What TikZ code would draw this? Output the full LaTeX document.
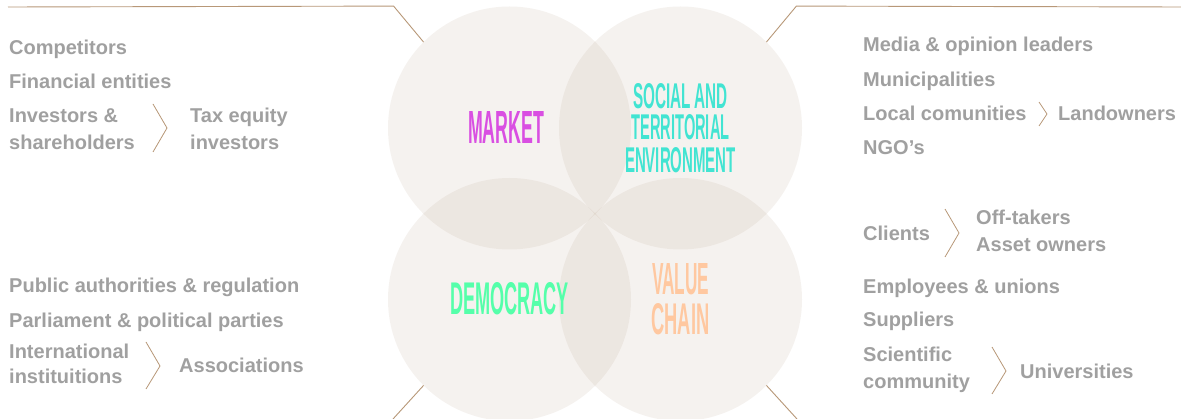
\documentclass[tikz,border=0pt]{standalone}
\usepackage{fontspec}
\setmainfont{Liberation Sans}
\usepackage{graphicx}
\definecolor{textgray}{RGB}{160,160,160}
\definecolor{linebrown}{RGB}{184,152,120}
\definecolor{circfill}{RGB}{165,135,105}
\definecolor{mktcol}{RGB}{217,79,226}
\definecolor{soccol}{RGB}{66,228,210}
\definecolor{demcol}{RGB}{85,255,170}
\definecolor{valcol}{RGB}{255,200,160}
\newcommand\disp[3]{\resizebox{#1pt}{#2pt}{\bfseries #3}}
\tikzset{
  circ/.style={circle, minimum size=243pt, inner sep=0pt, outer sep=0pt, fill=circfill, fill opacity=0.1},
  item/.style={anchor=base west, inner sep=0pt, text=textgray, font=\fontsize{20}{23}\selectfont\bfseries},
  lead/.style={draw=linebrown, line width=0.9pt},
  chev/.style={draw=linebrown, line width=0.8pt},
  lab/.style={anchor=south, inner sep=0pt},
}
\begin{document}
\begin{tikzpicture}[x=1pt,y=-1pt]
\useasboundingbox (0,0) rectangle (1181,419);
\fill[white] (0,0) rectangle (1181,419);

% circles
\node[circ] (mkt) at (509.5,128) {};
\node[circ] (soc) at (680.5,128) {};
\node[circ] (dem) at (509.5,299.5) {};
\node[circ] (val) at (680.5,299.5) {};

% leader lines
\coordinate (tlend) at (8,7);
\coordinate (trend) at (1181,7);
\coordinate (blend) at (393,419);
\coordinate (brend) at (797,419);
\draw[lead] (mkt.135) -- ++(-30,-36) -- (tlend);
\draw[lead] (soc.45) -- ++(30,-36) -- (trend);
\draw[lead] (dem.225) -- (blend);
\draw[lead] (val.315) -- (brend);

% circle labels
\node[lab] (lmkt) at (506,144) {\color{mktcol}\disp{76}{32}{MARKET}};
\node[lab] (lsoc1) at (680.5,109) {\color{soccol}\disp{95}{25}{SOCIAL AND}};
\node[lab] (lsoc2) at (680.5,140) {\color{soccol}\disp{98}{25}{TERRITORIAL}};
\node[lab] (lsoc3) at (680.5,173) {\color{soccol}\disp{111}{25}{ENVIRONMENT}};
\node[lab] (ldem) at (509.5,315) {\color{demcol}\disp{119}{32}{DEMOCRACY}};
\node[lab] (lval1) at (680.5,295) {\color{valcol}\disp{57}{31}{VALUE}};
\node[lab] (lval2) at (680.5,335) {\color{valcol}\disp{58}{31}{CHAIN}};

% top-left
\node[item] (comp) at (9,55) {Competitors};
\node[item] (fin) at (9,89) {Financial entities};
\node[item] (inv1) at (9,123) {Investors \&};
\node[item] (inv2) at (9,150) {shareholders};
\node[item] (tax1) at (190,123) {Tax equity};
\node[item] (tax2) at (190,150) {investors};
\draw[chev] (153,104) -- (167,128) -- (153,152);

% top-right
\node[item] (media) at (863,52) {Media \& opinion leaders};
\node[item] (muni) at (863,87) {Municipalities};
\node[item] (local) at (863,121) {Local comunities};
\node[item] (land) at (1058,121) {Landowners};
\node[item] (ngo) at (863,155) {NGO's};
\draw[chev] (1039,102) -- (1047,114) -- (1039,126);

% bottom-left
\node[item] (pub) at (9,293) {Public authorities \& regulation};
\node[item] (parl) at (9,328) {Parliament \& political parties};
\node[item] (intl1) at (9,359) {International};
\node[item] (intl2) at (9,384) {instituitions};
\node[item] (assoc) at (179,373) {Associations};
\draw[chev] (146,342) -- (160,366) -- (146,389);

% bottom-right
\node[item] (cli) at (863,241) {Clients};
\node[item] (off) at (976,225) {Off-takers};
\node[item] (asset) at (976,252) {Asset owners};
\draw[chev] (945,209) -- (959,233) -- (945,257);
\node[item] (emp) at (863,294) {Employees \& unions};
\node[item] (sup) at (863,327) {Suppliers};
\node[item] (sci1) at (863,362) {Scientific};
\node[item] (sci2) at (863,389) {community};
\node[item] (univ) at (1020,379) {Universities};
\draw[chev] (992,347) -- (1006,371) -- (992,394);
\end{tikzpicture}
\end{document}
